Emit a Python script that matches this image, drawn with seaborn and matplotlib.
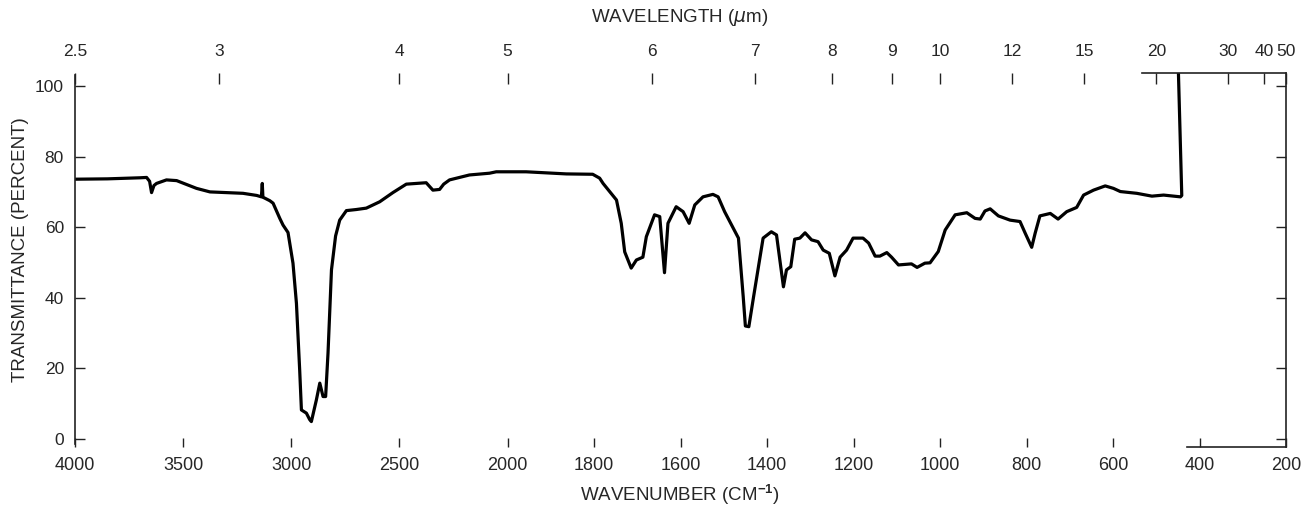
import numpy as np
import matplotlib
matplotlib.use("Agg")
import matplotlib.pyplot as plt
import seaborn as sns

# ---- data ----
wavenumber = [4000, 3850, 3700, 3669, 3655, 3646, 3635, 3623, 3577, 3530, 3480, 3438,
              3376, 3300, 3223, 3160, 3138, 3134, 3131, 3099, 3084, 3053, 3038, 3015,
              2992, 2976, 2961, 2953, 2930, 2915, 2907, 2884, 2868, 2853, 2841, 2830,
              2814, 2795, 2776, 2745, 2700, 2653, 2591, 2530, 2468, 2376, 2355, 2345,
              2314, 2295, 2268, 2176, 2083, 2052, 1957, 1864, 1803, 1787, 1779, 1748,
              1737, 1729, 1714, 1702, 1687, 1679, 1660, 1648, 1637, 1629, 1610, 1594,
              1580, 1567, 1548, 1525, 1513, 1498, 1478, 1466, 1455, 1450, 1442, 1431,
              1409, 1390, 1378, 1362, 1355, 1345, 1336, 1324, 1312, 1297, 1282, 1270,
              1256, 1243, 1231, 1216, 1201, 1178, 1165, 1150, 1139, 1123, 1112, 1096,
              1066, 1053, 1035, 1023, 1004, 988, 965, 938, 919, 907, 896, 884, 865,
              838, 815, 803, 788, 780, 769, 745, 727, 707, 684, 668, 645, 618, 599,
              583, 545, 510, 483, 444, 441, 449]
transmittance = [73.6, 73.7, 74.0, 74.1, 73.0, 69.8, 71.8, 72.4, 73.4, 73.2, 72.0, 71.0,
                 70.0, 69.8, 69.6, 69.0, 68.6, 72.4, 68.5, 67.5, 66.8, 62.5, 60.6, 58.5,
                 49.8, 38.4, 19.5, 8.2, 7.3, 5.5, 4.9, 11.0, 15.8, 12.0, 12.0, 24.3,
                 47.9, 57.5, 62.0, 64.7, 65.0, 65.4, 67.2, 69.8, 72.2, 72.6, 71.2, 70.5,
                 70.7, 72.2, 73.4, 74.8, 75.3, 75.7, 75.7, 75.1, 75.0, 73.9, 72.4, 67.7,
                 61.1, 53.0, 48.4, 50.7, 51.5, 57.3, 63.5, 63.0, 47.1, 61.1, 65.8, 64.4,
                 61.1, 66.3, 68.6, 69.3, 68.6, 64.4, 59.7, 56.9, 40.3, 32.0, 31.8, 40.3,
                 56.9, 58.7, 57.8, 43.1, 47.9, 48.8, 56.6, 56.9, 58.4, 56.4, 55.9, 53.5,
                 52.6, 46.2, 51.5, 53.5, 56.9, 56.9, 55.5, 51.8, 51.8, 52.8, 51.5, 49.3,
                 49.6, 48.6, 49.8, 49.9, 53.1, 59.2, 63.5, 64.1, 62.5, 62.3, 64.6, 65.2, 63.2,
                 62.0, 61.6, 58.3, 54.3, 58.3, 63.2, 63.9, 62.3, 64.4, 65.6, 69.1, 70.5, 71.7, 71.0,
                 70.1, 69.6, 68.8, 69.1, 68.6, 69.0, 105.0]

wn_ticks = [4000, 3500, 3000, 2500, 2000, 1800, 1600, 1400, 1200, 1000, 800, 600, 400, 200]
t_ticks = [0, 20, 40, 60, 80, 100]
wavelength_ticks = [2.5, 3, 4, 5, 6, 7, 8, 9, 10, 12, 15, 20, 30, 40, 50]
wavelength_labels = ["2.5", "3", "4", "5", "6", "7", "8", "9", "10", "12", "15", "20", "30", "40", "50"]

# ---- style ----
sns.set_style("white")
plt.rcParams["font.family"] = ["Liberation Sans", "DejaVu Sans"]
plt.rcParams["mathtext.fontset"] = "custom"
plt.rcParams["mathtext.rm"] = "Liberation Sans"
plt.rcParams["mathtext.bf"] = "Liberation Sans:bold"


def fwd(w):
    # IR chart convention: below 2000 cm-1 the scale is doubled
    w = np.asarray(w, dtype=float)
    return np.where(w >= 2000, w, 2000.0 - (2000.0 - w) * 2.0)


def inv(u):
    u = np.asarray(u, dtype=float)
    return np.where(u >= 2000, u, 2000.0 - (2000.0 - u) / 2.0)


fig = plt.figure(figsize=(13.02, 5.12), dpi=100)
ax = fig.add_axes([75 / 1302, 1 - 447 / 512, (1286 - 75) / 1302, (447 - 73) / 512])

df = {"wn": wavenumber, "T": transmittance}
sns.lineplot(data=df, x="wn", y="T", sort=False, estimator=None, color="black",
             lw=2.3, ax=ax, legend=False)
ax.set_xscale("function", functions=(fwd, inv))
ax.set_xlim(4000, 200)
ax.set_ylim(-2.3, 103.7)

ax.set_xticks(wn_ticks)
ax.set_xticklabels([str(t) for t in wn_ticks])
ax.set_yticks(t_ticks)
ax.set_yticklabels([str(t) for t in t_ticks])
ax.minorticks_off()
ax.tick_params(axis="x", direction="in", length=6.5, width=1.0, pad=7, labelsize=13,
               color="#222222", bottom=True)
ax.tick_params(axis="y", direction="in", length=7, width=1.0, pad=8, labelsize=12.5,
               color="#222222", left=True, right=True)
ax.set_xlabel("")
ax.set_ylabel("")

for s in ["left", "right", "top", "bottom"]:
    ax.spines[s].set_color("#222222")
    ax.spines[s].set_linewidth(1.2)
ax.spines["left"].set_bounds(-1.4, 103.1)
ax.spines["bottom"].set_bounds(430, 200)
ax.spines["top"].set_bounds(532, 200)

# top wavelength axis
ax2 = ax.twiny()
ax2.set_xscale("function", functions=(fwd, inv))
ax2.set_xlim(4000, 200)
ax2.set_xticks([10000.0 / l for l in wavelength_ticks])
ax2.set_xticklabels(wavelength_labels)
ax2.minorticks_off()
ax2.tick_params(axis="x", direction="in", length=8, width=1.0, pad=10, labelsize=12.5,
                color="#222222", top=True)
for s in ax2.spines.values():
    s.set_visible(False)

fig.text(680 / 1302, 1 - 18 / 512, r"WAVELENGTH ($\mu$m)", ha="center", va="center",
         fontsize=13.5)
fig.text(680 / 1302, 1 - 495 / 512, r"WAVENUMBER (CM$^{\mathbf{-1}}$)", ha="center",
         va="center", fontsize=13.5)
fig.text(21 / 1302, 1 - 250 / 512, "TRANSMITTANCE (PERCENT)", ha="center", va="center",
         rotation=90, fontsize=13.5)

fig.savefig("out.png", dpi=100)
